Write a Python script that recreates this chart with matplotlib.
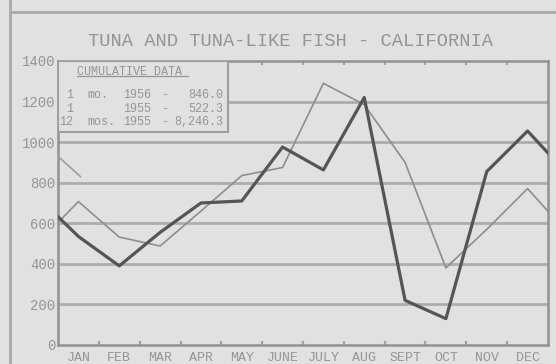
import matplotlib
matplotlib.use("Agg")
import matplotlib.pyplot as plt
from matplotlib.lines import Line2D
from matplotlib.patches import Rectangle
import numpy as np


# months along the bottom
months = ["JAN", "FEB", "MAR", "APR", "MAY", "JUNE", "JULY", "AUG", "SEPT", "OCT", "NOV", "DEC"]

# landings (1,000 lbs) -- first value is previous Dec, last is next Jan (run off the frame)
landings_1956 = [730, 535, 390, 555, 700, 710, 976, 863, 1220, 220, 130, 855, 1055, 838]
landings_1955 = [500, 707, 532, 488, 660, 835, 875, 1290, 1185, 900, 380, 570, 771, 547]

# short stray segment at the top left of the original sheet
stray_x = [0.0, 0.55]
stray_vals = [930, 830]

y_ticks = [0, 200, 400, 600, 800, 1000, 1200, 1400]

# cumulative data box
cum_rows = [("1", "mo.", "1956", "-", "846.0"),
            ("1", "", "1955", "-", "522.3"),
            ("12", "mos.", "1955", "-", "8,246.3")]

BG = "#e1e1df"
TXT = "#959595"
GRID = "#adadad"
MONO = "Liberation Mono"

fig = plt.figure(figsize=(5.56, 3.64), dpi=100, facecolor=BG)
ax = fig.add_axes([58 / 556, 1 - 345 / 364, 490 / 556, 284 / 364])
ax.set_facecolor(BG)

x = np.arange(-1, len(months) + 1) + 0.5

ax.plot(x, landings_1955, color="#8e8e8e", lw=1.2, zorder=3)
ax.plot(x, landings_1956, color="#555555", lw=2.3, zorder=4)
ax.plot(stray_x, stray_vals, color="#9e9e9e", lw=1.2, zorder=3)

ax.set_xlim(0, 12)
ax.set_ylim(0, 1400)

for v in y_ticks[1:-1]:
    ax.axhline(v, color=GRID, lw=2, zorder=1)

ax.set_yticks(y_ticks)
ax.set_yticklabels([str(v) for v in y_ticks], fontfamily=MONO, fontsize=10, color=TXT)
ax.tick_params(axis="y", length=0, pad=2)

ax.set_xticks(np.arange(1, 12))
ax.set_xticklabels([])
ax.set_xticks(np.arange(len(months)) + 0.5, minor=True)
ax.set_xticklabels(months, minor=True, fontfamily=MONO, fontsize=9.5, color=TXT)
ax.tick_params(axis="x", which="major", direction="in", length=3, width=1.5,
               color="#a0a0a0", top=True)
ax.tick_params(axis="x", which="minor", length=0, pad=5)

for s in ax.spines.values():
    s.set_color("#929292")
    s.set_linewidth(1.8)

# title
fig.text(290 / 556, 1 - 42 / 364, "TUNA AND TUNA-LIKE FISH - CALIFORNIA",
         ha="center", va="center", fontfamily=MONO, fontsize=13.5, color=TXT)

# cumulative data box
box = Rectangle((0, 0.75), 0.347, 0.25, transform=ax.transAxes, fill=True,
                facecolor=BG, edgecolor="#9e9e9e", lw=1.5, zorder=5)
ax.add_patch(box)
ax.text(0.039, 0.962, "CUMULATIVE DATA", transform=ax.transAxes, ha="left", va="center",
        fontfamily=MONO, fontsize=8.5, color=TXT, zorder=6)
ax.plot([0.039, 0.265], [0.947, 0.947], transform=ax.transAxes, color=TXT, lw=0.9, zorder=6)
row_y = [0.880, 0.831, 0.785]
for (n, unit, yr, dash, val), yy in zip(cum_rows, row_y):
    kw = dict(transform=ax.transAxes, va="center", fontfamily=MONO, fontsize=8.5,
              color=TXT, zorder=6)
    ax.text(0.031, yy, n, ha="right", **kw)
    ax.text(0.059, yy, unit, ha="left", **kw)
    ax.text(0.133, yy, yr, ha="left", **kw)
    ax.text(0.218, yy, dash, ha="center", **kw)
    ax.text(0.337, yy, val, ha="right", **kw)

# sheet edges from the scan
fig.add_artist(Line2D([10 / 556, 10 / 556], [0, 1], color="#a9a9a9", lw=2))
fig.add_artist(Line2D([10 / 556, 1], [1 - 12 / 364, 1 - 12 / 364], color="#a9a9a9", lw=2))

fig.savefig("out.png", dpi=100, facecolor=BG)
